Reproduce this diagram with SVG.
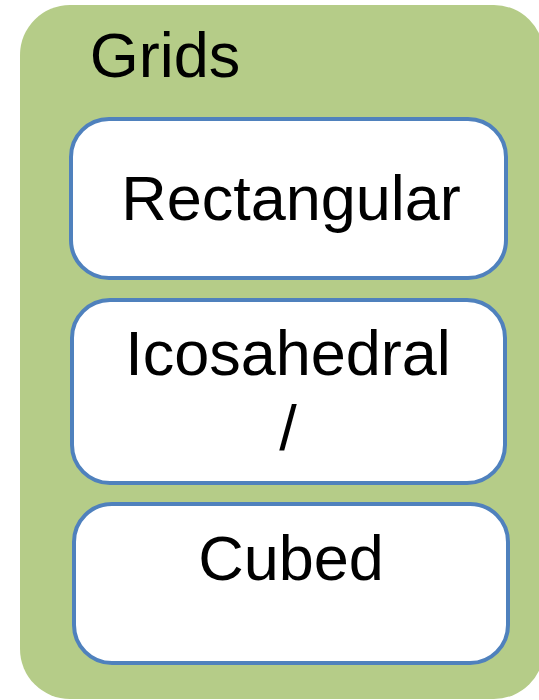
<svg xmlns="http://www.w3.org/2000/svg" width="539" height="700" viewBox="0 0 539 700">
  <style>
    .panel { fill: #B5CC88; }
    .item { fill: #FFFFFF; stroke: #4F81BD; stroke-width: 4; }
    .label { font-family: "Liberation Sans", Arial, sans-serif; font-size: 63px; fill: #000000; }
  </style>
  <g id="grids">
    <rect class="panel" x="20" y="5" width="524" height="694" rx="50" ry="50"/>
    <text class="label" x="165" y="77" text-anchor="middle">Grids</text>
  </g>
  <g id="rectangular">
    <rect class="item" x="71" y="119" width="435" height="159" rx="38" ry="38"/>
    <text class="label" x="291" y="220" text-anchor="middle">Rectangular</text>
  </g>
  <g id="icosahedral">
    <rect class="item" x="72" y="300" width="433" height="183" rx="38" ry="38"/>
    <text class="label" x="288" y="375" text-anchor="middle">Icosahedral</text>
    <text class="label" x="288" y="450" text-anchor="middle">/</text>
  </g>
  <g id="cubed">
    <rect class="item" x="74" y="504" width="434" height="159" rx="38" ry="38"/>
    <text class="label" x="291" y="580" text-anchor="middle">Cubed</text>
  </g>
  <g id="connectors"/>
</svg>
